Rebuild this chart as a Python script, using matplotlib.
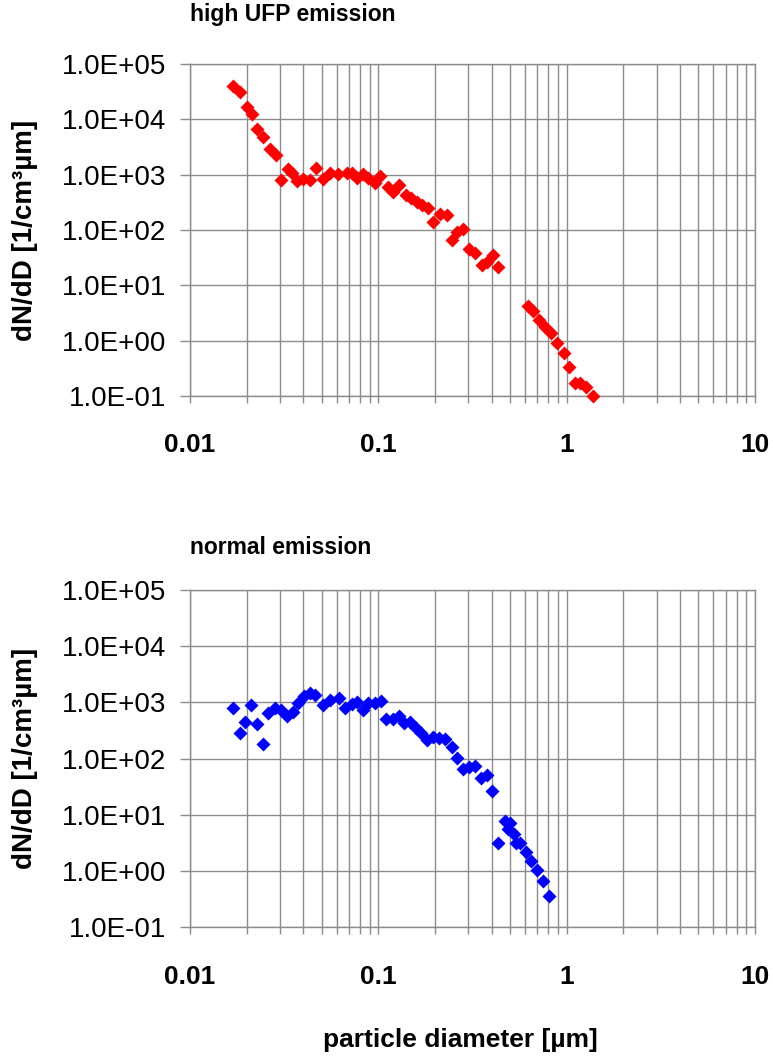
"""Particle size distributions for high-UFP and normal emission.

Two log-log panels of dN/dD versus particle diameter, drawn in the style
of an Excel chart (diamond markers, full decade grid).

Saves the figure to 'out.png'.
"""

import numpy as np
import matplotlib.pyplot as plt
from matplotlib.ticker import LogLocator, FuncFormatter, NullFormatter

# high UFP emission (red)
high_d = [0.0170, 0.0184, 0.0200, 0.0214, 0.0228, 0.0243, 0.0266, 0.0286,
          0.0304, 0.0333, 0.0347, 0.0372, 0.0400, 0.0434, 0.0467, 0.0507,
          0.0554, 0.0613, 0.0680, 0.0722, 0.0774, 0.0833, 0.0885, 0.0961,
          0.102, 0.112, 0.120, 0.128, 0.140, 0.150, 0.160, 0.170, 0.183,
          0.196, 0.213, 0.231, 0.245, 0.261, 0.283, 0.304, 0.326, 0.354,
          0.376, 0.405, 0.434, 0.626, 0.661, 0.716, 0.768, 0.823, 0.893,
          0.969, 1.03, 1.11, 1.18, 1.27, 1.38]
high_n = [4.0e4, 3.1e4, 1.7e4, 1.25e4, 6.6e3, 4.7e3, 2.9e3, 2.3e3,
          800, 1250, 1080, 780, 820, 800, 1300, 820,
          1080, 1025, 1080, 1056, 880, 1025, 857, 696,
          944, 589, 491, 649, 428, 373, 324, 282, 246,
          141, 194, 186, 65.7, 92.8, 102, 44.6, 37.8, 23.2,
          26.6, 35.2, 21.1, 4.2, 3.5, 2.35, 1.73, 1.35, 0.89,
          0.61, 0.33, 0.173, 0.173, 0.143, 0.1]

# normal emission (blue)
norm_d = [0.0170, 0.0184, 0.0196, 0.0210, 0.0228, 0.0243, 0.0261, 0.0283,
          0.0304, 0.0326, 0.0351, 0.0376, 0.0403, 0.0434, 0.0461, 0.0511,
          0.0554, 0.0621, 0.0666, 0.0722, 0.0774, 0.0825, 0.0885, 0.0955,
          0.103, 0.110, 0.120, 0.129, 0.137, 0.147, 0.158, 0.168, 0.182,
          0.196, 0.211, 0.226, 0.245, 0.263, 0.283, 0.304, 0.326, 0.350,
          0.376, 0.402, 0.434, 0.471, 0.490, 0.501, 0.526, 0.535, 0.566,
          0.609, 0.645, 0.694, 0.752, 0.809]
norm_n = [805, 289, 442, 899, 413, 180, 640, 785,
          733, 573, 683, 964, 1300, 1500, 1327, 899,
          1081, 1183, 795, 918, 1029, 733, 976, 964,
          1059, 511, 511, 566, 425, 454, 346, 289, 214,
          239, 230, 220, 163, 101, 64.5, 70, 73.8, 44.6,
          51.1, 26.8, 3.2, 7.8, 5.5, 7.0, 4.55, 3.2, 3.2,
          2.2, 1.52, 1.04, 0.67, 0.36]

x_ticks = [0.01, 0.1, 1, 10]
y_ticks = [1e-1, 1e0, 1e1, 1e2, 1e3, 1e4, 1e5]

FONT = "Liberation Sans"
GRID = "#8c8c8c"


def style_axis(ax):
    """Excel-like log-log axis with full decade grid."""
    ax.set_xscale("log")
    ax.set_yscale("log")
    ax.set_xlim(0.01, 10)
    ax.set_ylim(1e-1, 1e5)
    ax.set_xticks(x_ticks)
    ax.xaxis.set_minor_locator(LogLocator(base=10, subs=np.arange(2, 10)))
    ax.xaxis.set_minor_formatter(NullFormatter())
    ax.xaxis.set_major_formatter(FuncFormatter(lambda v, p: f"{v:g}"))
    ax.set_yticks(y_ticks)
    ax.yaxis.set_minor_locator(LogLocator(base=10, subs=[]))
    ax.yaxis.set_major_formatter(FuncFormatter(lambda v, p: f"{v:.1E}"))
    ax.grid(True, which="both", axis="x", color=GRID, lw=1.0)
    ax.grid(True, which="major", axis="y", color=GRID, lw=1.0)
    ax.set_axisbelow(True)
    for s in ax.spines.values():
        s.set_color(GRID)
        s.set_linewidth(1.0)
    ax.tick_params(axis="y", which="major", length=7, width=1, color=GRID,
                   pad=10, labelsize=20)
    ax.tick_params(axis="x", which="major", length=5, width=1, color=GRID,
                   pad=22, labelsize=19)
    ax.tick_params(axis="x", which="minor", length=5, width=1, color=GRID)
    for lab in ax.get_xticklabels():
        lab.set_fontweight("bold")
    ax.set_ylabel("dN/dD [1/cm³µm]", fontsize=20, fontweight="bold")
    ax.yaxis.set_label_coords(-0.292, 0.5)
    ax.yaxis.label.set_va("center")


def main():
    plt.rcParams["font.family"] = [FONT, "DejaVu Sans"]
    fig = plt.figure(figsize=(7.73, 10.59), dpi=100)
    ax1 = fig.add_axes([0.2458, 0.6261, 0.7309, 0.3135])
    ax2 = fig.add_axes([0.2458, 0.1246, 0.7309, 0.3182])

    ax1.plot(high_d, high_n, "D", color="#ff0000", ms=7, mec="none",
             clip_on=False, zorder=3)
    ax2.plot(norm_d, norm_n, "D", color="#0000ff", ms=7, mec="none",
             clip_on=False, zorder=3)
    style_axis(ax1)
    style_axis(ax2)

    fig.text(190 / 773, 1 - 15 / 1059, "high UFP emission", fontsize=16.5,
             fontweight="bold", va="center", ha="left")
    fig.text(190 / 773, 1 - 548 / 1059, "normal emission", fontsize=16.5,
             fontweight="bold", va="center", ha="left")
    fig.text(460 / 773, 1 - 1040 / 1059, "particle diameter [µm]",
             fontsize=19, fontweight="bold", va="center", ha="center")

    fig.savefig("out.png", dpi=100)


if __name__ == "__main__":
    main()
